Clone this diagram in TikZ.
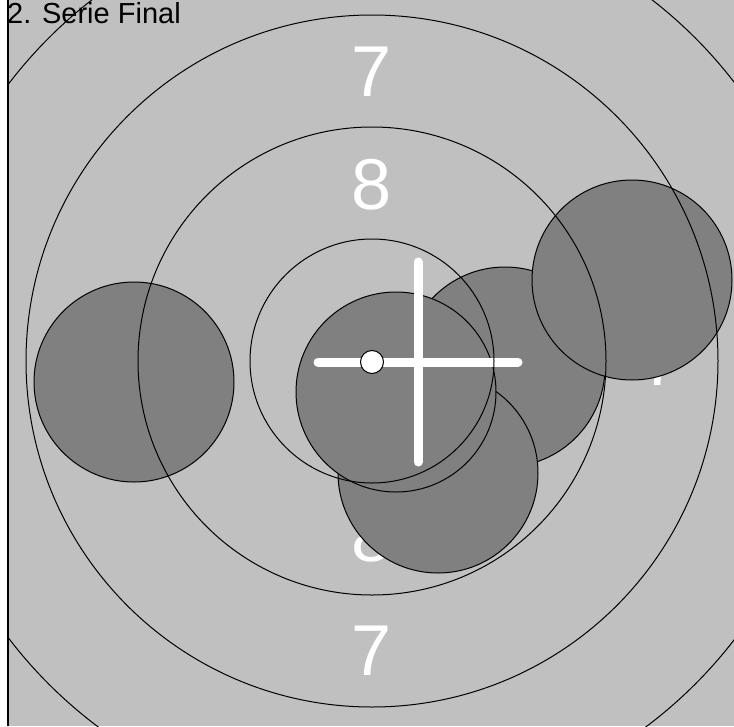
\documentclass[tikz,border=0pt]{standalone}
\usepackage{fontspec}
\setmainfont{Liberation Sans}
\definecolor{targetgray}{HTML}{C0C0C0}
\definecolor{shotgray}{HTML}{808080}
\tikzset{
  ring/.style={draw=black, line width=1pt},
  shot/.style={fill=shotgray, draw=black, line width=1pt},
  ringnum/.style={text=white, inner sep=0pt, font=\fontsize{72}{72}\selectfont},
  crossbar/.style={white, line width=9pt, line cap=round}
}
\begin{document}
\begin{tikzpicture}[x=1pt,y=-1pt]
  \useasboundingbox (0,0) rectangle (734,726);
  \fill[white] (0,0) rectangle (734,726);
  \fill[targetgray] (8,0) rectangle (734,726);
  \coordinate (c) at (372,361);
  \begin{scope}
    \clip (8,0) rectangle (734,726);
    \node[ringnum] (n8t) at (372,185) {8};
    \node[ringnum] (n8b) at (372,537) {8};
    \node[ringnum] (n8l) at (196,361) {8};
    \node[ringnum] (n8r) at (548,361) {8};
    \node[ringnum] (n7t) at (372,72) {7};
    \node[ringnum] (n7b) at (372,651) {7};
    \node[ringnum] (n7l) at (82,361) {7};
    \node[ringnum] (n7r) at (662,361) {7};
    \foreach \x/\y in {134/382, 505/367, 632/280, 438/473, 396/392}
      \draw[shot] (\x,\y) circle (100);
    \draw[crossbar] (318,362) -- (518,362);
    \draw[crossbar] (418,262) -- (418,462);
    \foreach \r in {122,234,346,457}
      \draw[ring] (c) circle (\r);
    \draw[fill=white, draw=black, line width=1pt] (372,362) circle (11.5);
  \end{scope}
  \draw[line width=1.5pt] (8,0) -- (8,726);
  \node[anchor=base west, inner sep=0pt, font=\fontsize{29}{29}\selectfont] (title) at (7,23) {2. Serie Final};
\end{tikzpicture}
\end{document}
